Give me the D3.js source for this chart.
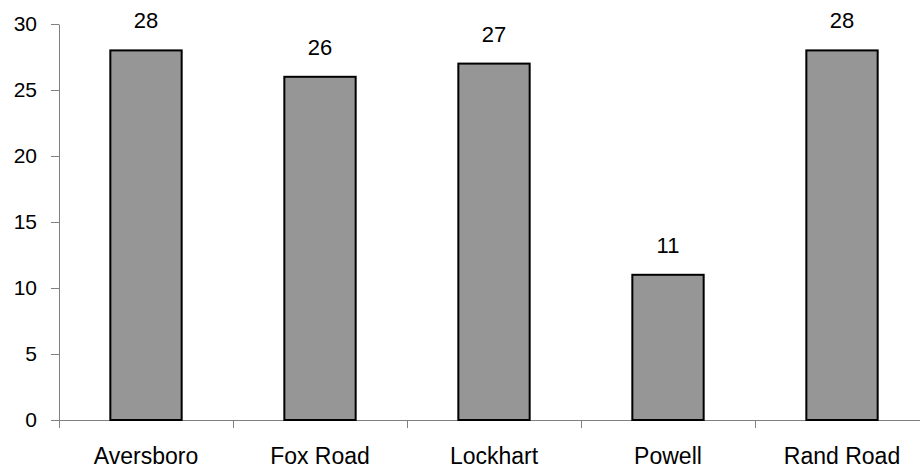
<!DOCTYPE html>
<html><head><meta charset="utf-8">
<script src="https://cdn.jsdelivr.net/npm/d3@7/dist/d3.min.js"></script>
<style>
html,body{margin:0;padding:0;background:#fff;}
svg{display:block;}
text{font-family:"Liberation Sans",Arial,sans-serif;fill:#000;}
</style></head>
<body>
<svg id="c" width="920" height="470"></svg>
<script>
const categories = ["Aversboro","Fox Road","Lockhart","Powell","Rand Road"];
const values = [28,26,27,11,28];
const yTicks = [0,5,10,15,20,25,30];

(function(){
const svg = d3.select("#c");
const mLeft = 59, mRight = 929, mTop = 24, mBottom = 420;

const x = d3.scaleBand().domain(categories).range([mLeft, mRight]).padding(0);
const y = d3.scaleLinear().domain([0,30]).range([mBottom, mTop]);
const barW = x.bandwidth() * 0.41;

// y axis
const yAxis = d3.axisLeft(y).tickValues(yTicks).tickSize(8).tickPadding(14).tickSizeOuter(0);
const gy = svg.append("g").attr("transform", `translate(${mLeft},0)`).call(yAxis);
gy.select(".domain").attr("stroke","#808080").attr("stroke-width",1);
gy.selectAll(".tick line").attr("stroke","#808080");
gy.selectAll(".tick text").style("font-size","21px").style("font-family","'Liberation Sans',Arial,sans-serif").attr("fill","#000");

// x axis line with boundary ticks
const gx = svg.append("g");
gx.append("line").attr("x1", mLeft).attr("x2", mRight).attr("y1", y(0)+0.5).attr("y2", y(0)+0.5)
  .attr("stroke","#808080");
const bounds = categories.map(c => x(c)).concat([x(categories[categories.length-1]) + x.bandwidth()]);
gx.selectAll("line.bt").data(bounds).enter().append("line").attr("class","bt")
  .attr("x1", d => Math.round(d)+0.5).attr("x2", d => Math.round(d)+0.5)
  .attr("y1", y(0)).attr("y2", y(0)+8).attr("stroke","#808080");
gx.selectAll("text").data(categories).enter().append("text")
  .attr("x", d => x(d) + x.bandwidth()/2)
  .attr("y", 464)
  .attr("text-anchor","middle")
  .style("font-size","23px")
  .text(d => d);

// bars
svg.selectAll("rect.bar").data(categories).enter().append("rect").attr("class","bar")
  .attr("x", (d) => x(d) + (x.bandwidth()-barW)/2)
  .attr("y", (d,i) => y(values[i]))
  .attr("width", barW)
  .attr("height", (d,i) => y(0) - y(values[i]))
  .attr("fill","#969696").attr("stroke","#000").attr("stroke-width",2);

// value labels
svg.selectAll("text.val").data(categories).enter().append("text").attr("class","val")
  .attr("x", d => x(d) + x.bandwidth()/2)
  .attr("y", (d,i) => y(values[i]) - 22)
  .attr("text-anchor","middle")
  .style("font-size","22px")
  .text((d,i) => values[i]);
})();
</script>
</body></html>
